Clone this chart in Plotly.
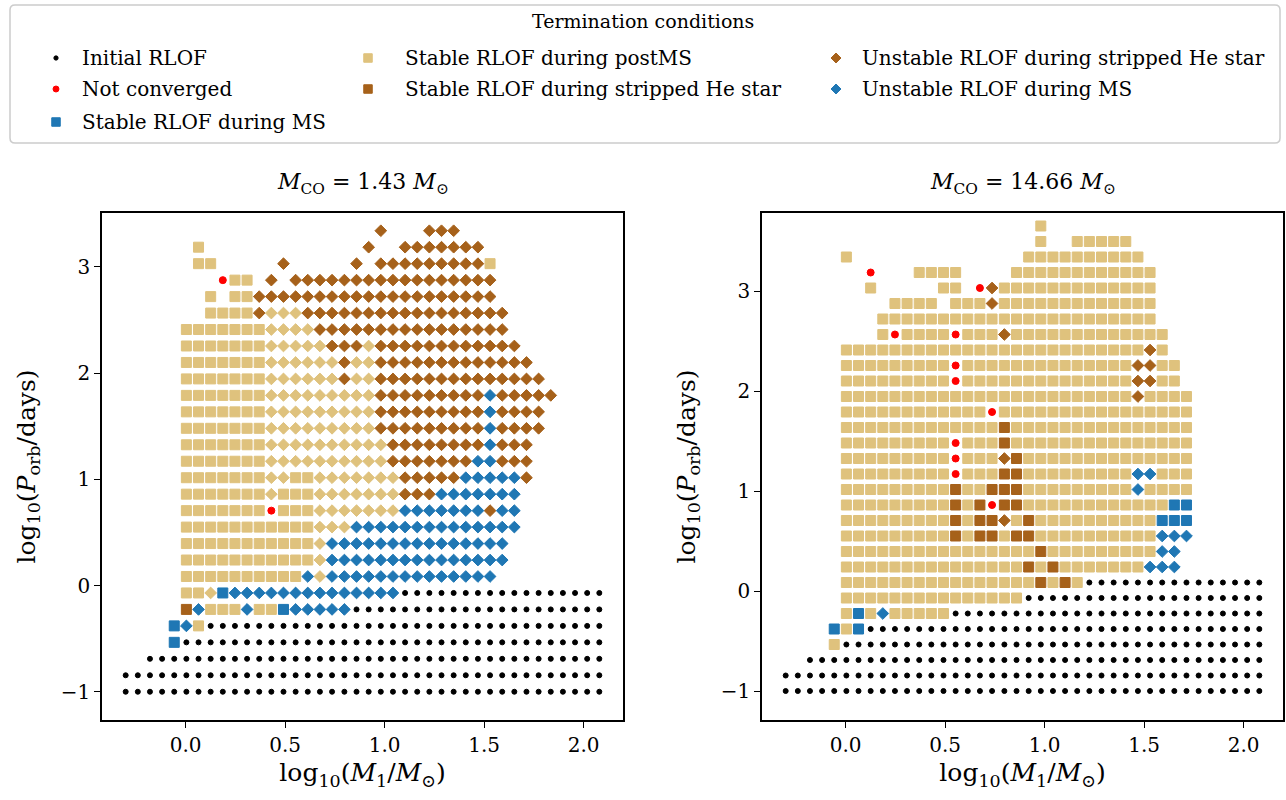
import plotly.graph_objects as go

W, H = 1286, 800

# grid of initial conditions (log10 M1, log10 P)
X_GRID = [-0.301, -0.240, -0.179, -0.118, -0.057, 0.004, 0.065, 0.126, 0.187, 0.248,
          0.309, 0.370, 0.431, 0.492, 0.553, 0.614, 0.675, 0.736, 0.798, 0.859,
          0.920, 0.981, 1.042, 1.103, 1.164, 1.225, 1.286, 1.347, 1.408, 1.469,
          1.530, 1.591, 1.652, 1.713, 1.774, 1.835, 1.896, 1.957, 2.018, 2.079]
Y_GRID = [-1.000, -0.845, -0.690, -0.535, -0.380, -0.225, -0.070, 0.085, 0.240, 0.395,
          0.550, 0.705, 0.860, 1.015, 1.170, 1.325, 1.480, 1.635, 1.790, 1.945,
          2.100, 2.255, 2.410, 2.565, 2.720, 2.875, 3.030, 3.185, 3.340, 3.495, 3.650]

# termination code per grid cell, one string per period row (bottom -> top)
# k initial RLOF, r not converged, B stable MS, T stable postMS,
# H stable stripped He, h unstable stripped He, b unstable MS, t unstable postMS
LEFT_ROWS = [
    "k0-39",
    "k0-39",
    "k2-39",
    "B4 k5-39",
    "B4 b5 T6 k7-39",
    "H5 b6 T7-9 b10 T11-12 B13 b14-18 k19-39",
    "T5-6 t7 B8 b9-22 k23-39",
    "T5-14 b15 t16 b17-30",
    "T5-15 t16 b17-31",
    "T5-15 t16 b17-31",
    "T5-15 t16-18 b19-32",
    "T5-11 r12 T13-15 t16-22 b23-29 h30 b31-32",
    "T5-11 t12 T13-15 t16-22 h23-25 b26-32",
    "T5-11 t12-13 T14-15 t16-22 h23-27 b28-32 h33",
    "T5-11 t12-21 h22-28 b29-30 h31-33",
    "T5-11 t12-21 h22-29 b30 h31-33",
    "T5-11 t12-20 h21-29 b30 h31-34",
    "T5-11 t12-20 h21-29 b30 h31-34",
    "T5-11 t12-20 h21-29 b30 h31-35",
    "T5-11 t12-17 h18 t19-20 h21-34",
    "T5-11 t12-17 h18 t19-20 h21-33",
    "T5-11 t12-16 h17-19 t20 h21-32",
    "T5-11 t12-15 h16-31",
    "T7-10 h11 t12-14 h15-31",
    "T7 T9-10 h11-30",
    "r8 T9-10 h12 h14-30",
    "T6-7 h13 h19 h21-29 T30",
    "T6 h20 h23-29",
    "h21 h25-27",
    "",
    "",
]

RIGHT_ROWS = [
    "k0-39",
    "k0-39",
    "k2-39",
    "T4 k5-39",
    "B4 T5 B6 k7-39",
    "T5 B6 T7 b8 T9-13 k14-39",
    "T5-19 k20-39",
    "T5-20 H21 T22 H23 T24 k25-39",
    "T5-19 H20 T21 H22 T23-29 b30-32",
    "T5-20 H21 T22-30 b31-32",
    "T5-13 H14 T15 H16-17 T18 H19-20 T21-30 b31-33",
    "T5-13 H14 T15 H16-17 h18 T19 H20 T21-30 B31-33",
    "T5-13 H14 T15 H16 r17 H18-19 T20-31 B32-33",
    "T5-13 H14 T15-16 H17-19 T20-28 b29 T30-33",
    "T5-13 r14 T15-17 H18-19 T20-28 b29-30 T31-33",
    "T5-13 r14 T15-17 h18 H19 T20-33",
    "T5-13 r14 T15-17 H18 T19-33",
    "T5-17 H18 T19-33",
    "T5-16 r17 T18-33",
    "T5-28 h29 T30-33",
    "T5-13 r14 T15-28 h29-30 T31-32",
    "T5-13 r14 T15-28 h29-30 T31-32",
    "T5-29 h30 T31",
    "T8 r9 T10-13 r14 T15-17 h18 T19-31",
    "T8-30",
    "T9-12 T14-16 h17 T18-30",
    "T7 T13-14 r16 h17 T18-30",
    "r7 T11-14 T19-30",
    "T5 T20-29",
    "T21 T24-28",
    "T21",
]

PANEL_TITLES = ["1.43", "14.66"]

NAMES = {
    "k": "Initial RLOF",
    "r": "Not converged",
    "B": "Stable RLOF during MS",
    "T": "Stable RLOF during postMS",
    "H": "Stable RLOF during stripped He star",
    "h": "Unstable RLOF during stripped He star",
    "b": "Unstable RLOF during MS",
    "t": "Unstable RLOF during postMS",
}

BLUE, TAN, BROWN = "#1f77b4", "#dfc27d", "#a6611a"
STYLE = {
    "k": dict(symbol="circle", size=5, color="black"),
    "r": dict(symbol="circle", size=7, color="#ff0000"),
    "B": dict(symbol="square", size=10, color=BLUE),
    "T": dict(symbol="square", size=10, color=TAN),
    "H": dict(symbol="square", size=10, color=BROWN),
    "h": dict(symbol="diamond", size=9, color=BROWN),
    "b": dict(symbol="diamond", size=9, color=BLUE),
    "t": dict(symbol="diamond", size=9, color=TAN),
}


def parse(rows):
    pts = {}
    for j, row in enumerate(rows):
        for tok in row.split():
            code, rng = tok[0], tok[1:]
            if "-" in rng:
                a, b = (int(v) for v in rng.split("-"))
            else:
                a = b = int(rng)
            xs, ys = pts.setdefault(code, ([], []))
            for i in range(a, b + 1):
                xs.append(X_GRID[i])
                ys.append(Y_GRID[j])
    return pts


def marker(code, scale=1.0):
    s = STYLE[code]
    return dict(symbol=s["symbol"], size=s["size"] * scale, color=s["color"],
                line=dict(width=1, color=s["color"]))


fig = go.Figure()
DRAW_ORDER = ["k", "T", "t", "H", "h", "b", "B", "r"]
for p, rows in enumerate([LEFT_ROWS, RIGHT_ROWS]):
    pts = parse(rows)
    ax = "" if p == 0 else "2"
    for code in DRAW_ORDER:
        if code not in pts:
            continue
        xs, ys = pts[code]
        fig.add_trace(go.Scatter(
            x=xs, y=ys, mode="markers", name=NAMES[code], showlegend=False,
            marker=marker(code), xaxis="x" + ax, yaxis="y" + ax,
            hovertemplate=NAMES[code] + "<extra></extra>"))

# ---- layout geometry (pixels) ----
FRAME_TOP, FRAME_BOT = 213, 720
L_LEFT, L_RIGHT = 102, 623
R_LEFT, R_RIGHT = 762, 1283
ydom = [(H - FRAME_BOT) / H, (H - FRAME_TOP) / H]
LEG_H = 150

FONT = "DejaVu Serif"
axis_common = dict(showline=True, mirror=True, linecolor="black", linewidth=1.5,
                   ticks="outside", ticklen=6, tickwidth=1.2, tickcolor="black",
                   showgrid=False, zeroline=False,
                   tickfont=dict(family=FONT, size=20, color="black"))
xt = dict(tickvals=[0, 0.5, 1, 1.5, 2], ticktext=["0.0", "0.5", "1.0", "1.5", "2.0"])
yt = dict(tickvals=[-1, 0, 1, 2, 3], ticktext=["\u22121", "0", "1", "2", "3"])
xtitle = dict(text="log<sub>10</sub>(<i>M</i><sub>1</sub>/<i>M</i><sub>\u2299</sub>)",
              font=dict(family=FONT, size=25, color="black"), standoff=8)
ytitle = dict(text="log<sub>10</sub>(<i>P</i><sub>orb</sub>/days)",
              font=dict(family=FONT, size=25, color="black"), standoff=18)

fig.update_layout(
    width=W, height=H, margin=dict(l=0, r=0, t=0, b=0),
    paper_bgcolor="white", plot_bgcolor="rgba(0,0,0,0)", showlegend=False,
    xaxis=dict(domain=[L_LEFT / W, L_RIGHT / W], range=[-0.42, 2.198], title=xtitle,
               anchor="y", **xt, **axis_common),
    yaxis=dict(domain=ydom, range=[-1.266, 3.507], title=ytitle, anchor="x",
               **yt, **axis_common),
    xaxis2=dict(domain=[R_LEFT / W, R_RIGHT / W], range=[-0.42, 2.198], title=xtitle,
                anchor="y2", **xt, **axis_common),
    yaxis2=dict(domain=ydom, range=[-1.29, 3.78], title=ytitle, anchor="x2",
                **yt, **axis_common),
    # helper axes covering only the legend strip at the top
    xaxis3=dict(domain=[0, 1], range=[0, W], visible=False, fixedrange=True, anchor="y3"),
    yaxis3=dict(domain=[(H - LEG_H) / H, 1], range=[LEG_H, 0], visible=False,
                fixedrange=True, anchor="x3"),
)

# panel titles
for p, (a, b) in enumerate([(L_LEFT, L_RIGHT), (R_LEFT, R_RIGHT)]):
    fig.add_annotation(
        x=(a + b) / 2 / W, y=(H - 183) / H, xref="paper", yref="paper",
        text="<i>M</i><sub>CO</sub> = " + PANEL_TITLES[p] + " <i>M</i><sub>\u2299</sub>",
        showarrow=False, font=dict(family=FONT, size=22, color="black"),
        xanchor="center", yanchor="middle")

# ---- legend (drawn manually, 3 columns) ----
x0, y0, x1, y1 = 10, 5, 1280, 143
r = 5
path = (f"M {x0+r} {y0} L {x1-r} {y0} Q {x1} {y0} {x1} {y0+r} L {x1} {y1-r} "
        f"Q {x1} {y1} {x1-r} {y1} L {x0+r} {y1} Q {x0} {y1} {x0} {y1-r} "
        f"L {x0} {y0+r} Q {x0} {y0} {x0+r} {y0} Z")
fig.add_shape(type="path", path=path, xref="x3", yref="y3",
              line=dict(color="#cccccc", width=1.5), fillcolor="white", layer="below")
fig.add_annotation(x=643, y=21, xref="x3", yref="y3", text="Termination conditions",
                   showarrow=False, font=dict(family=FONT, size=19, color="black"))
LEG_COLS = [(56, 80, ["k", "r", "B"]), (368, 403, ["T", "H"]), (836, 860, ["h", "b"])]
LEG_ROWS_Y = [58, 89, 122]
for mx, tx, codes in LEG_COLS:
    for k, code in enumerate(codes):
        fig.add_trace(go.Scatter(x=[mx], y=[LEG_ROWS_Y[k]], mode="markers",
                                 marker=marker(code, 0.85), xaxis="x3", yaxis="y3",
                                 showlegend=False, hoverinfo="skip"))
        fig.add_annotation(x=tx, y=LEG_ROWS_Y[k], xref="x3", yref="y3",
                           text=NAMES[code], showarrow=False, xanchor="left",
                           font=dict(family=FONT, size=20, color="black"))

fig.write_html("out.html")
